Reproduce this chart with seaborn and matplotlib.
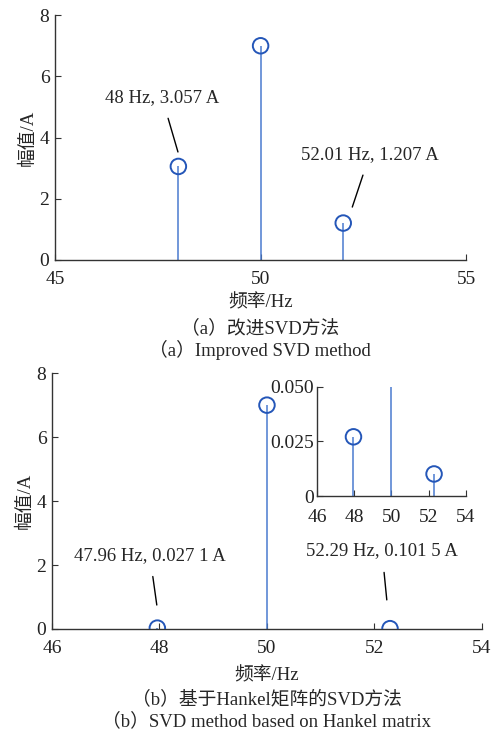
import matplotlib
matplotlib.use("Agg")
import matplotlib.pyplot as plt
import seaborn as sns

# (a) improved SVD
freq_a = [48.0, 50.0, 52.01]
amp_a = [3.057, 7.0, 1.207]

# (b) Hankel SVD
freq_b = [47.96, 50.0, 52.29]
amp_b = [0.0271, 7.0, 0.0101]

xticks_a = [45, 50, 55]
yticks_a = [0, 2, 4, 6, 8]
xticks_b = [46, 48, 50, 52, 54]
yticks_b = [0, 2, 4, 6, 8]
inset_xticks = [46, 48, 50, 52, 54]
inset_yticks = [0, 0.025, 0.05]
inset_ylabels = ["0", "0.025", "0.050"]

sns.set_theme(style="white")
fams = ["Liberation Serif", "Noto Sans CJK SC"]
plt.rcParams["font.family"] = fams
plt.rcParams["axes.unicode_minus"] = False

STEM = "#4a7bd0"
MARK = "#2456b8"
SPINE = "#333333"
FS = 14


def stem(ax, x, y, ms=125):
    ax.vlines(x, 0, y, color=STEM, lw=1.1, zorder=2)
    sns.scatterplot(x=x, y=y, ax=ax, s=ms, marker="o", facecolors="none",
                    edgecolor=MARK, linewidth=1.4, zorder=3, clip_on=True)


def style(ax, fs=FS):
    sns.despine(ax=ax)
    for s in ["left", "bottom"]:
        ax.spines[s].set_color(SPINE)
        ax.spines[s].set_linewidth(1.0)
    ax.tick_params(direction="in", length=4, width=0.8, colors=SPINE,
                   labelcolor="#222222", labelsize=fs, left=True, bottom=True)
    ax.tick_params(axis="x", pad=8)
    ax.tick_params(axis="y", pad=4)


fig = plt.figure(figsize=(4.93, 7.33), dpi=100)

# ---- top panel
ax1 = fig.add_axes([0.1116, 0.6453, 0.834, 0.334])
stem(ax1, freq_a, amp_a)
ax1.set_xlim(45, 55)
ax1.set_ylim(0, 8)
ax1.set_xticks(xticks_a)
ax1.set_yticks(yticks_a)
style(ax1)
ax1.set_xlabel("频率/Hz", fontsize=13.5, labelpad=4)
ax1.set_ylabel("幅值/A", fontsize=13.5, labelpad=2)
ax1.annotate("48 Hz, 3.057 A", xy=(47.99, 3.53), xytext=(47.6, 5.32),
             ha="center", va="center", fontsize=13.5,
             arrowprops=dict(arrowstyle="-", color="black", lw=1, shrinkA=7, shrinkB=0))
ax1.annotate("52.01 Hz, 1.207 A", xy=(52.23, 1.73), xytext=(52.66, 3.46),
             ha="center", va="center", fontsize=13.5,
             arrowprops=dict(arrowstyle="-", color="black", lw=1, shrinkA=7, shrinkB=0))

fig.text(0.528, 1 - 328 / 733, "（a）改进SVD方法", ha="center", va="center", fontsize=13.5)
fig.text(0.528, 1 - 350 / 733, "（a）Improved SVD method", ha="center", va="center", fontsize=13.5)

# ---- bottom panel
ax2 = fig.add_axes([0.1055, 0.1419, 0.872, 0.349])
stem(ax2, freq_b, amp_b)
ax2.set_xlim(46, 54)
ax2.set_ylim(0, 8)
ax2.set_xticks(xticks_b)
ax2.set_yticks(yticks_b)
style(ax2)
ax2.set_xlabel("频率/Hz", fontsize=13.5, labelpad=7)
ax2.set_ylabel("幅值/A", fontsize=13.5, labelpad=2)
ax2.annotate("47.96 Hz, 0.027 1 A", xy=(47.95, 0.75), xytext=(47.82, 2.31),
             ha="center", va="center", fontsize=13.5,
             arrowprops=dict(arrowstyle="-", color="black", lw=1, shrinkA=7, shrinkB=0))
ax2.annotate("52.29 Hz, 0.101 5 A", xy=(52.23, 0.91), xytext=(52.14, 2.44),
             ha="center", va="center", fontsize=13.5,
             arrowprops=dict(arrowstyle="-", color="black", lw=1, shrinkA=7, shrinkB=0))

# inset
ax3 = fig.add_axes([0.643, 0.3233, 0.302, 0.149])
ax3.vlines(freq_b, 0, amp_b, color=STEM, lw=1.1, zorder=2)
sns.scatterplot(x=[freq_b[0], freq_b[2]], y=[amp_b[0], amp_b[2]], ax=ax3, s=125,
                marker="o", facecolors="none", edgecolor=MARK, linewidth=1.4, zorder=3)
ax3.set_xlim(46, 54)
ax3.set_ylim(0, 0.05)
ax3.set_xticks(inset_xticks)
ax3.set_yticks(inset_yticks)
ax3.set_yticklabels(inset_ylabels)
style(ax3)
ax3.tick_params(axis="x", pad=9)
ax3.tick_params(axis="y", pad=2)
ax3.patch.set_alpha(0)

fig.text(0.541, 1 - 699 / 733, "（b）基于Hankel矩阵的SVD方法", ha="center", va="center", fontsize=13.5)
fig.text(0.541, 1 - 721 / 733, "（b）SVD method based on Hankel matrix", ha="center", va="center", fontsize=13.5)

fig.savefig("out.png", dpi=100)
